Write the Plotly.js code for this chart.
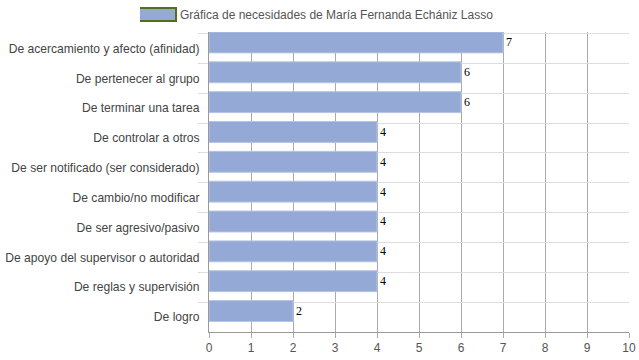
<!DOCTYPE html>
<html>
<head>
<meta charset="utf-8">
<script src="https://cdn.plot.ly/plotly-3.0.1.min.js"></script>
<style>html,body{margin:0;padding:0;background:#fff}#chart{width:639px;height:360px}</style>
</head>
<body>
<div id="chart"></div>
<script>
var categories = [
  "De acercamiento y afecto (afinidad)",
  "De pertenecer al grupo",
  "De terminar una tarea",
  "De controlar a otros",
  "De ser notificado (ser considerado)",
  "De cambio/no modificar",
  "De ser agresivo/pasivo",
  "De apoyo del supervisor o autoridad",
  "De reglas y supervisión",
  "De logro"
];
var values = [7, 6, 6, 4, 4, 4, 4, 4, 4, 2];
var seriesName = "Gráfica de necesidades de María Fernanda Echániz Lasso";
var xTicks = [0,1,2,3,4,5,6,7,8,9,10];

var barColor = "#94a9d5";

var traces = [
  {
    type: "bar",
    orientation: "h",
    x: values,
    y: categories,
    width: 0.7,
    marker: {color: barColor, line: {color: "#b6c4e3", width: 1}},
    showlegend: false,
    hoverinfo: "x+y"
  },
  {
    type: "bar",
    orientation: "h",
    x: [null],
    y: [categories[0]],
    name: seriesName,
    marker: {color: barColor, line: {color: "#5b6b1e", width: 2}},
    showlegend: true,
    hoverinfo: "skip"
  }
];

var annotations = values.map(function(v, i){
  return {
    x: v, y: categories[i], xref: "x", yref: "y",
    text: String(v), showarrow: false,
    xanchor: "left", yanchor: "middle", xshift: 1, yshift: 6,
    font: {family: "Liberation Serif, Times New Roman, serif", size: 12, color: "#000"}
  };
});

var layout = {
  width: 639, height: 360,
  margin: {l: 209, r: 10, t: 32, b: 28, pad: 0},
  paper_bgcolor: "#fff", plot_bgcolor: "#fff",
  font: {family: "Liberation Sans, Arial, sans-serif", size: 12, color: "#444"},
  showlegend: true,
  legend: {
    orientation: "h", xref: "container", yref: "container",
    x: 0.5, xanchor: "center", y: 1, yanchor: "top",
    font: {size: 12, color: "#555"}, bgcolor: "rgba(0,0,0,0)"
  },
  xaxis: {
    range: [0, 10], tickvals: xTicks, ticktext: xTicks.map(String),
    showgrid: true, gridcolor: "#aaaaaa", gridwidth: 1,
    zeroline: false, showline: true, linecolor: "#999", linewidth: 1,
    ticks: "outside", ticklen: 5, tickcolor: "#aaa",
    tickfont: {size: 12, color: "#555"}, fixedrange: true
  },
  yaxis: {
    type: "category", categoryorder: "array", categoryarray: categories,
    autorange: "reversed", tickson: "boundaries",
    showgrid: true, gridcolor: "#dddddd", gridwidth: 1,
    showline: true, linecolor: "#999", linewidth: 1,
    ticks: "outside", ticklen: 10, tickcolor: "#dddddd",
    ticklabelstandoff: 6,
    tickfont: {size: 12.1, color: "#444"}, fixedrange: true
  },
  annotations: annotations
};

Plotly.newPlot("chart", traces, layout, {displayModeBar: false, staticPlot: true}).then(function(gd){
  // widen the legend swatch to a rectangle like the reference
  gd.querySelectorAll(".legend .legendpoints path").forEach(function(p){
    p.setAttribute("d", "M-27,6.5H16V-6.5H-27Z");
  });
});
</script>
</body>
</html>
